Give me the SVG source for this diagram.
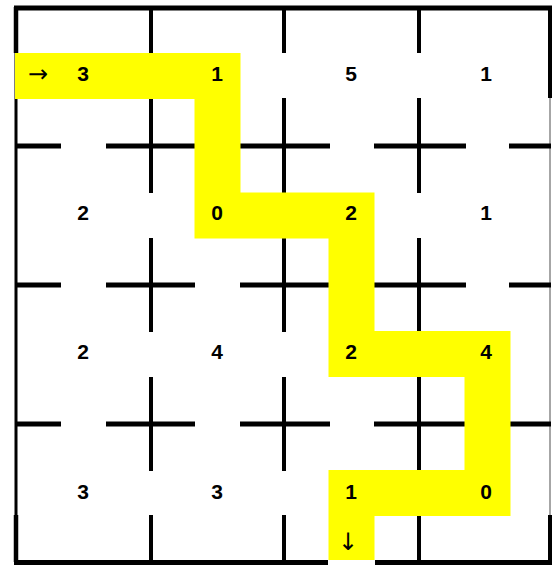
<svg xmlns="http://www.w3.org/2000/svg" width="552" height="565" viewBox="0 0 552 565">
<style>
.v{stroke:#000;stroke-width:4;fill:none}
.h{stroke:#000;stroke-width:5;fill:none}
.n{font-family:"Liberation Sans",Arial,sans-serif;font-weight:bold;font-size:21px;text-anchor:middle;fill:#000}
.a{font-family:"DejaVu Sans","Liberation Sans",sans-serif;font-size:24px;text-anchor:middle;fill:#000}
</style>
<rect width="552" height="565" fill="#fff"/>
<g id="grid">
<path class="h" d="M14 8H552M14 562.5H328M375 562.5H552"/>
<path d="M16 7V562" stroke="#000" stroke-width="3"/>
<path d="M16 7V53M16 515V562" stroke="#000" stroke-width="4.5"/>
<path d="M550 98V515" stroke="#888" stroke-width="1.5"/>
<path class="v" d="M550 7V98M550 515V562"/>
<path class="v" d="M151 7V53M151 98V193M151 238V332M151 377V471M151 515V562"/>
<path class="v" d="M284 7V53M284 98V193M284 238V332M284 377V471M284 515V562"/>
<path class="v" d="M419 7V53M419 98V193M419 238V332M419 377V471M419 515V562"/>
<path class="h" d="M16 146H61M106 146H195M240 146H330M374 146H466M509 146H551"/>
<path class="h" d="M16 285H61M106 285H195M240 285H330M374 285H466M509 285H551"/>
<path class="h" d="M16 424H61M106 424H195M240 424H330M374 424H466M509 424H551"/>
</g>
<g id="route">
<polyline points="15,76 217.5,76 217.5,215.5 351.5,215.5 351.5,354 487.5,354 487.5,493 351.5,493 351.5,560" fill="none" stroke="#ffff00" stroke-width="46" stroke-linejoin="miter" stroke-linecap="butt"/>
</g>
<g id="cells">
<g id="r1"><text class="n" x="83" y="81">3</text><text class="n" x="217" y="81">1</text><text class="n" x="351" y="81">5</text><text class="n" x="486" y="81">1</text></g>
<g id="r2"><text class="n" x="83" y="220">2</text><text class="n" x="217" y="220">0</text><text class="n" x="351" y="220">2</text><text class="n" x="486" y="220">1</text></g>
<g id="r3"><text class="n" x="83" y="359">2</text><text class="n" x="217" y="359">4</text><text class="n" x="351" y="359">2</text><text class="n" x="486" y="359">4</text></g>
<g id="r4"><text class="n" x="83" y="499">3</text><text class="n" x="217" y="499">3</text><text class="n" x="351" y="499">1</text><text class="n" x="486" y="499">0</text></g>
<g id="arrows"><text class="a" x="38" y="82">→</text><text class="a" x="348" y="550">↓</text></g>
</g>
</svg>
